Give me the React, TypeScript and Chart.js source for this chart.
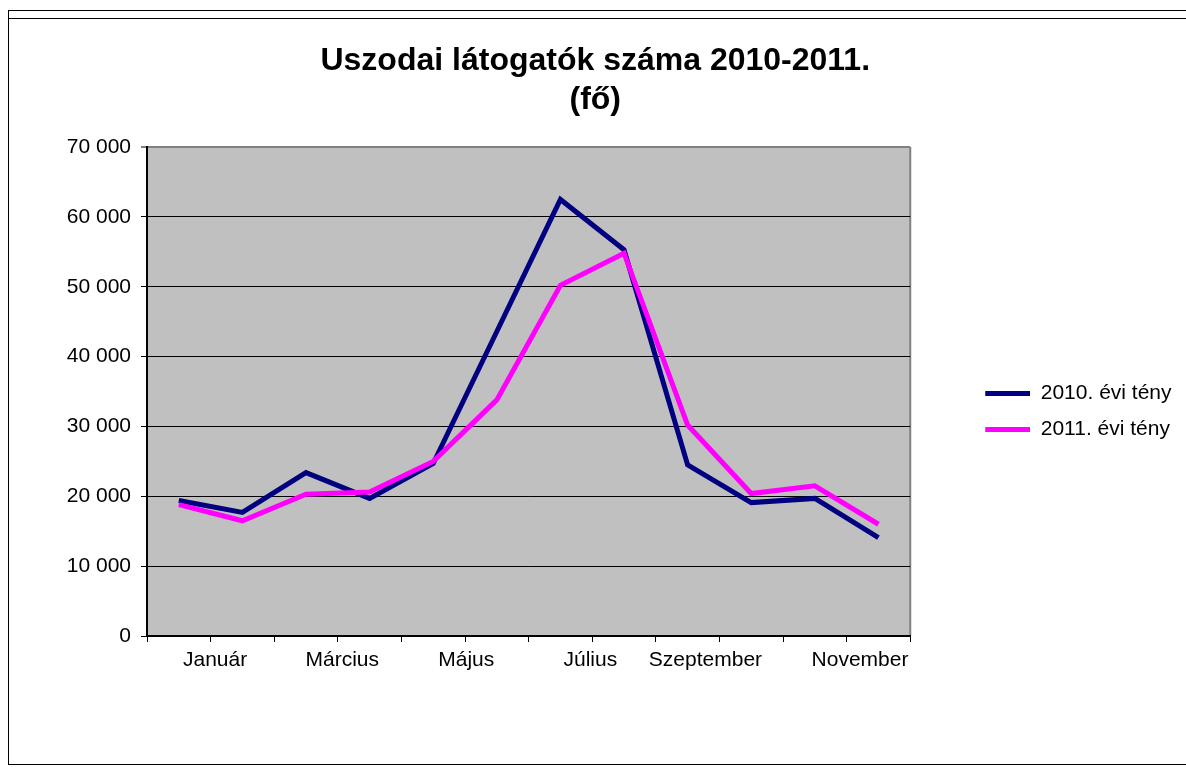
import React, { useEffect, useRef } from "react";
import { Chart, registerables } from "chart.js";

Chart.register(...registerables);

const months = [
  "Január", "Február", "Március", "Április", "Május", "Június",
  "Július", "Augusztus", "Szeptember", "Október", "November", "December",
];
const visitors2010 = [19400, 17700, 23400, 19700, 24700, 43600, 62500, 55300, 24500, 19100, 19700, 14100];
const visitors2011 = [18800, 16500, 20300, 20600, 25000, 33800, 50200, 54800, 30200, 20400, 21500, 16000];
const seriesNames = ["2010. évi tény", "2011. évi tény"];
const seriesColors = ["#000080", "#FF00FF"];
const titleLines = ["Uszodai látogatók száma 2010-2011.", "(fő)"];
const yTicks = [0, 10000, 20000, 30000, 40000, 50000, 60000, 70000];
const labeledMonthIdx = [0, 2, 4, 6, 8, 10];

// layout-only: where Excel placed each shown category label (in category units)
const xLabelShift = [0.57, 0.57, 0.52, 0.47, 0.28, 0.71];

const FONT = "'Liberation Sans', Arial, sans-serif";

// legend sample: transparent lead-in gap, then a 45x5 line swatch
const LEGEND_GAP = 60;
const SWATCH_W = 45;
const SWATCH_H = 5;

function makeSwatch(color: string) {
  const c = document.createElement("canvas");
  c.width = LEGEND_GAP + SWATCH_W;
  c.height = SWATCH_H;
  const g = c.getContext("2d");
  if (g) {
    g.fillStyle = color;
    g.fillRect(LEGEND_GAP, 0, SWATCH_W, SWATCH_H);
  }
  return c;
}

export default function App() {
  const ref = useRef<HTMLCanvasElement | null>(null);

  useEffect(() => {
    const canvas = ref.current;
    if (!canvas) return;
    const n = months.length;
    const boundaries = Array.from({ length: n + 1 }, (_, i) => i - 0.5);
    const labelTicks = labeledMonthIdx.map((m, k) => m + xLabelShift[k]);
    const swatches = seriesColors.map(makeSwatch);

    const plotBg = {
      id: "plotBg",
      beforeDraw(chart: any) {
        const { ctx, chartArea } = chart;
        ctx.save();
        ctx.fillStyle = "#C0C0C0";
        ctx.fillRect(chartArea.left, chartArea.top, chartArea.width, chartArea.height);
        ctx.strokeStyle = "#808080";
        ctx.lineWidth = 2;
        ctx.beginPath();
        ctx.moveTo(chartArea.right, chartArea.top);
        ctx.lineTo(chartArea.right, chartArea.bottom);
        ctx.stroke();
        ctx.restore();
      },
    };

    const chart = new Chart(canvas, {
      type: "line",
      data: {
        datasets: [
          {
            label: seriesNames[0],
            data: visitors2010.map((v, i) => ({ x: i, y: v })),
            borderColor: seriesColors[0],
            backgroundColor: seriesColors[0],
            borderWidth: 5,
            pointRadius: 0,
            tension: 0,
            order: 2,
          },
          {
            label: seriesNames[1],
            data: visitors2011.map((v, i) => ({ x: i, y: v })),
            borderColor: seriesColors[1],
            backgroundColor: seriesColors[1],
            borderWidth: 5,
            pointRadius: 0,
            tension: 0,
            order: 1,
          },
        ],
      },
      options: {
        responsive: false,
        animation: false,
        events: [],
        layout: { padding: { left: 0, right: 3.5, top: 0, bottom: 0 } },
        plugins: {
          tooltip: { enabled: false },
          title: {
            display: true,
            text: titleLines,
            color: "#000",
            font: { family: FONT, size: 32, weight: "bold", lineHeight: 1.22 },
            padding: { top: 23, bottom: 27 },
          },
          legend: {
            position: "right",
            title: {
              display: true,
              text: "",
              font: { size: 16, lineHeight: 1 },
              padding: { top: 23, bottom: 0 },
            },
            labels: {
              color: "#000",
              font: { family: FONT, size: 21 },
              usePointStyle: true,
              pointStyleWidth: LEGEND_GAP + SWATCH_W,
              boxHeight: SWATCH_H,
              padding: 15,
              sort: (a: any, b: any) => a.datasetIndex - b.datasetIndex,
              generateLabels: (c: any) =>
                Chart.defaults.plugins.legend.labels
                  .generateLabels(c)
                  .map((it: any) => ({
                    ...it,
                    lineWidth: 0,
                    pointStyle: swatches[it.datasetIndex],
                  })),
            },
          },
        },
        scales: {
          x: {
            type: "linear",
            min: -0.5,
            max: n - 0.5,
            afterBuildTicks: (s: any) => {
              s.ticks = [
                ...boundaries.map((v) => ({ value: v })),
                ...labelTicks.map((v) => ({ value: v })),
              ];
            },
            afterFit: (s: any) => {
              s.height = 128;
            },
            ticks: {
              autoSkip: false,
              maxRotation: 0,
              minRotation: 0,
              padding: 6,
              color: "#000",
              font: { family: FONT, size: 21 },
              callback: (_v: any, i: number) =>
                i > n ? months[labeledMonthIdx[i - n - 1]] : "",
            },
            grid: {
              drawOnChartArea: false,
              tickLength: 6,
              color: "#000",
              tickColor: (c: any) => (c.index > n ? "rgba(0,0,0,0)" : "#000"),
            },
            border: { display: true, color: "#000", width: 2 },
          },
          y: {
            type: "linear",
            min: 0,
            max: 70000,
            afterBuildTicks: (s: any) => {
              s.ticks = yTicks.map((v) => ({ value: v }));
            },
            afterFit: (s: any) => {
              s.width = 138;
            },
            ticks: {
              padding: 10,
              color: "#000",
              font: { family: FONT, size: 21 },
              callback: (v: any) => String(v).replace(/\B(?=(\d{3})+(?!\d))/g, " "),
            },
            grid: {
              color: (c: any) => (c.tick && c.tick.value === 70000 ? "#808080" : "#000"),
              lineWidth: (c: any) => (c.tick && c.tick.value === 70000 ? 2 : 1),
              tickColor: "#000",
              tickWidth: 1,
              tickLength: 6,
            },
            border: { display: true, color: "#000", width: 2 },
          },
        },
      },
      plugins: [plotBg],
    } as any);

    return () => chart.destroy();
  }, []);

  const line = (style: React.CSSProperties) => (
    <div style={{ position: "absolute", background: "#000", ...style }} />
  );

  return (
    <div
      style={{
        position: "absolute",
        left: 0,
        top: 0,
        width: 1186,
        height: 767,
        background: "#fff",
        overflow: "hidden",
      }}
    >
      {line({ left: 8, top: 10, width: 1178, height: 1 })}
      {line({ left: 8, top: 18, width: 1178, height: 1 })}
      {line({ left: 8, top: 10, width: 1, height: 755 })}
      {line({ left: 8, top: 764, width: 1178, height: 1 })}
      <canvas
        ref={ref}
        width={1176}
        height={745}
        style={{ position: "absolute", left: 9, top: 19, width: 1176, height: 745 }}
      />
    </div>
  );
}
